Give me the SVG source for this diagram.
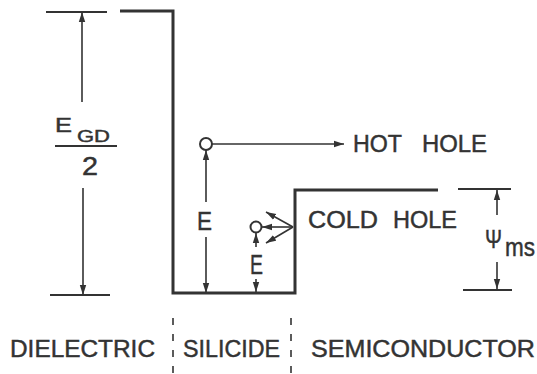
<svg xmlns="http://www.w3.org/2000/svg" width="537" height="374" viewBox="0 0 537 374">
<style>
.band{fill:none;stroke:#333;stroke-width:3;stroke-linejoin:miter}
.lvl{stroke:#333;stroke-width:2.2;fill:none}
.arr{stroke:#333;stroke-width:1.6;fill:none;marker-end:url(#ah)}
.dash{stroke:#333;stroke-width:1.6;stroke-dasharray:7 9;fill:none}
.hole{fill:#fff;stroke:#333;stroke-width:2}
text{font-family:"Liberation Sans",Arial,sans-serif;fill:#333;stroke:#333;stroke-width:0.45}
.lbl{font-size:23px}
</style>
<defs>
<marker id="ah" markerUnits="userSpaceOnUse" markerWidth="11" markerHeight="8" refX="10" refY="4" orient="auto">
<path d="M0,0.8 L10,4 L0,7.2 z" fill="#333"/>
</marker>
</defs>
<g id="band-diagram">
<line class="lvl" x1="46" y1="12" x2="107" y2="12"/>
<path class="band" d="M120,11 H173 V293 H295 V190 H438"/>
<line class="lvl" x1="458" y1="189" x2="511" y2="189"/>
<line class="lvl" x1="463" y1="290" x2="512" y2="290"/>
<line class="lvl" x1="50" y1="295" x2="110" y2="295"/>
</g>
<g id="egd-label">
<text x="55" y="132" font-size="21" textLength="17" lengthAdjust="spacingAndGlyphs">E</text>
<text x="77" y="142" font-size="17" textLength="33" lengthAdjust="spacingAndGlyphs">GD</text>
<line class="lvl" x1="55" y1="146" x2="117" y2="146"/>
<text x="82" y="175" font-size="25" textLength="16" lengthAdjust="spacingAndGlyphs">2</text>
</g>
<g id="hot-hole">
<circle class="hole" cx="206" cy="144" r="6"/>
<text class="lbl" x="353" y="152" textLength="49" lengthAdjust="spacingAndGlyphs">HOT</text>
<text class="lbl" x="422" y="152" textLength="65" lengthAdjust="spacingAndGlyphs">HOLE</text>
<text x="197" y="230" font-size="26" textLength="15" lengthAdjust="spacingAndGlyphs">E</text>
</g>
<g id="cold-hole">
<circle class="hole" cx="256" cy="227" r="5.5"/>
<text class="lbl" x="308" y="228" textLength="70" lengthAdjust="spacingAndGlyphs">COLD</text>
<text class="lbl" x="393" y="228" textLength="64" lengthAdjust="spacingAndGlyphs">HOLE</text>
<text x="250" y="274" font-size="27" textLength="13" lengthAdjust="spacingAndGlyphs">E</text>
</g>
<g id="psi-ms">
<text x="485" y="248" font-size="26" textLength="17" lengthAdjust="spacingAndGlyphs">Ψ</text>
<text x="505" y="256" font-size="25" textLength="30" lengthAdjust="spacingAndGlyphs">ms</text>
</g>
<g id="region-labels">
<text class="lbl" x="10" y="357" textLength="145" lengthAdjust="spacingAndGlyphs">DIELECTRIC</text>
<text class="lbl" x="183" y="357" textLength="97" lengthAdjust="spacingAndGlyphs">SILICIDE</text>
<text class="lbl" x="311" y="357" textLength="224" lengthAdjust="spacingAndGlyphs">SEMICONDUCTOR</text>
<line class="dash" x1="173" y1="318" x2="173" y2="374"/>
<line class="dash" x1="291" y1="318" x2="291" y2="374"/>
</g>
<g id="connectors">
<line class="arr" x1="82" y1="102" x2="82" y2="12"/>
<line class="arr" x1="83" y1="188" x2="83" y2="295"/>
<line class="arr" x1="212" y1="144" x2="344" y2="144"/>
<line class="arr" x1="206" y1="202" x2="206" y2="150"/>
<line class="arr" x1="206" y1="237" x2="206" y2="293"/>
<line class="arr" x1="256" y1="247" x2="256" y2="233"/>
<line class="arr" x1="256" y1="279" x2="256" y2="292"/>
<line class="arr" x1="293" y1="227" x2="266" y2="212"/>
<line class="arr" x1="293" y1="227" x2="262" y2="227"/>
<line class="arr" x1="293" y1="227" x2="266" y2="243"/>
<line class="arr" x1="497" y1="215" x2="497" y2="190"/>
<line class="arr" x1="497" y1="262" x2="497" y2="289"/>
</g>
</svg>
